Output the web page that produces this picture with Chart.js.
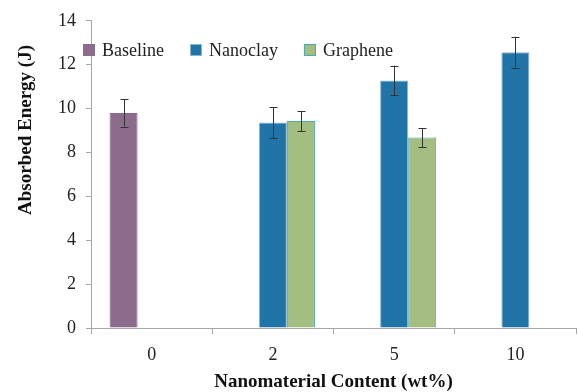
<!DOCTYPE html>
<html>
<head>
<meta charset="utf-8">
<script src="https://cdn.jsdelivr.net/npm/chart.js@4/dist/chart.umd.min.js"></script>
<style>
    html, body { margin: 0; padding: 0; background: #fff; }
    #wrap { width: 578px; height: 392px; }
</style>
</head>
<body>
<div id="wrap"><canvas id="energyChart" width="578" height="392"></canvas></div>
<script>
// Данные графика
const categories = ['0', '2', '5', '10'];
const seriesNames = ['Baseline', 'Nanoclay', 'Graphene'];
const baselineValues = [9.8, null, null, null];
const baselineErrors = [0.62, null, null, null];
const nanoclayValues = [null, 9.37, 11.28, 12.57];
const nanoclayErrors = [null, 0.7, 0.68, 0.7];
const grapheneValues = [null, 9.43, 8.68, null];
const grapheneErrors = [null, 0.45, 0.43, null];
const yTicks = [0, 2, 4, 6, 8, 10, 12, 14];

const xTitle = 'Nanomaterial Content (wt%)';
const yTitle = 'Absorbed Energy (J)';

// Цвета
const fills = ['#8c6b8c', '#2174a8', '#a4be82'];
const borders = ['#8c6b8c', '#86b6d6', '#4baab0'];

const serif = "'Liberation Serif', 'DejaVu Serif', serif";
Chart.defaults.font.family = serif;

// Плагин: планки погрешностей
const errorBarsPlugin = {
    id: 'errorBars',
    afterDatasetsDraw(chart) {
        const ctx = chart.ctx;
        const y = chart.scales.y;
        ctx.save();
        ctx.strokeStyle = '#333';
        ctx.lineWidth = 1;
        chart.data.datasets.forEach((ds, i) => {
            const meta = chart.getDatasetMeta(i);
            ds.data.forEach((v, j) => {
                const err = ds.errors[j];
                if (v === null || err === null) return;
                const x = Math.round(meta.data[j].x) + 0.5;
                const top = y.getPixelForValue(v + err);
                const bottom = y.getPixelForValue(v - err);
                ctx.beginPath();
                ctx.moveTo(x, top);
                ctx.lineTo(x, bottom);
                ctx.moveTo(x - 4, Math.round(top) + 0.5);
                ctx.lineTo(x + 4, Math.round(top) + 0.5);
                ctx.moveTo(x - 4, Math.round(bottom) + 0.5);
                ctx.lineTo(x + 4, Math.round(bottom) + 0.5);
                ctx.stroke();
            });
        });
        ctx.restore();
    }
};

// Плагин: легенда внутри области графика и подписи осей
const decorPlugin = {
    id: 'decor',
    afterDraw(chart) {
        const ctx = chart.ctx;
        const area = chart.chartArea;
        ctx.save();

        // Легенда
        ctx.font = '18px ' + serif;
        ctx.textBaseline = 'middle';
        let x = 83;
        const cy = 50;
        chart.data.datasets.forEach((ds) => {
            ctx.fillStyle = ds.backgroundColor;
            ctx.fillRect(x, cy - 6, 12, 12);
            ctx.strokeStyle = ds.borderColor;
            ctx.lineWidth = 1;
            ctx.strokeRect(x + 0.5, cy - 5.5, 11, 11);
            ctx.fillStyle = '#222';
            ctx.fillText(ds.label, x + 19, cy + 1);
            x += 19 + ctx.measureText(ds.label).width + 26;
        });

        // Подписи осей
        ctx.font = 'bold 19px ' + serif;
        ctx.fillStyle = '#111';
        ctx.textAlign = 'center';
        ctx.textBaseline = 'alphabetic';
        ctx.fillText(xTitle, (area.left + area.right) / 2, 387);

        ctx.translate(31, 130);
        ctx.rotate(-Math.PI / 2);
        ctx.fillText(yTitle, 0, 0);

        ctx.restore();
    }
};

const valueSets = [baselineValues, nanoclayValues, grapheneValues];
const errorSets = [baselineErrors, nanoclayErrors, grapheneErrors];

new Chart(document.getElementById('energyChart'), {
    type: 'bar',
    data: {
        labels: categories,
        datasets: seriesNames.map((name, i) => ({
            label: name,
            data: valueSets[i],
            errors: errorSets[i],
            backgroundColor: fills[i],
            borderColor: borders[i],
            borderWidth: 1,
            categoryPercentage: 0.694,
            barPercentage: 1.0
        }))
    },
    options: {
        responsive: false,
        animation: false,
        layout: { padding: { left: 0, right: 2, top: 16, bottom: 0 } },
        plugins: {
            legend: { display: false },
            tooltip: { enabled: false }
        },
        scales: {
            x: {
                grid: {
                    offset: true,
                    drawOnChartArea: false,
                    tickLength: 6,
                    color: '#a6a6a6'
                },
                border: { color: '#a6a6a6' },
                ticks: {
                    font: { family: serif, size: 18 },
                    color: '#222',
                    padding: 10
                },
                afterFit(scale) { scale.height = 64; }
            },
            y: {
                min: 0,
                max: 14,
                afterBuildTicks(scale) {
                    scale.ticks = yTicks.map(v => ({ value: v }));
                },
                grid: {
                    drawOnChartArea: false,
                    tickLength: 5,
                    color: '#a6a6a6'
                },
                border: { color: '#a6a6a6' },
                ticks: {
                    font: { family: serif, size: 18 },
                    color: '#222',
                    padding: 10
                },
                afterFit(scale) { scale.width = 91; }
            }
        }
    },
    plugins: [errorBarsPlugin, decorPlugin]
});
</script>
</body>
</html>
